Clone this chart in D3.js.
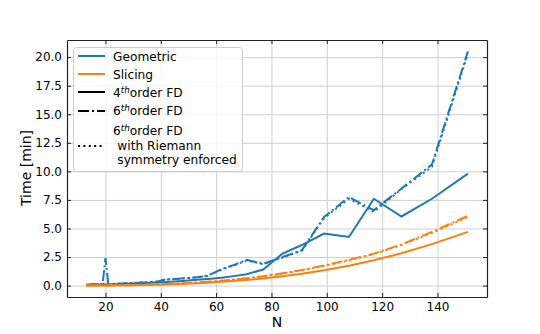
<!DOCTYPE html>
<html lang="en">
<head>
<meta charset="utf-8">
<title>Time vs N</title>
<script src="https://d3js.org/d3.v7.min.js"></script>
<style>
body { margin: 0; background: #fff; }
text { font-family: "DejaVu Sans", sans-serif; fill: #000; }
</style>
</head>
<body>
<script>

// grid sizes N and run times in minutes
var nValues = [13, 14, 15, 16, 18, 19, 20, 21, 22, 24, 26, 28, 30, 33, 36, 39, 42, 45, 49, 53, 57, 62, 67, 71, 77, 84, 91, 99, 108, 117, 127, 138, 151];

var geo4 = [0.05, 0.05, 0.06, 0.07, 0.08, 0.09, 0.10, 0.10, 0.11, 0.12, 0.14, 0.16, 0.18, 0.21, 0.25, 0.28, 0.32, 0.36, 0.42, 0.50, 0.57, 0.68, 0.85, 1.00, 1.40, 2.80, 3.55, 4.55, 4.25, 7.60, 6.05, 7.60, 9.80];
var geo6 = [0.08, 0.10, 0.12, 0.12, 0.10, 0.20, 2.40, 0.20, 0.12, 0.15, 0.18, 0.20, 0.22, 0.26, 0.28, 0.35, 0.55, 0.58, 0.65, 0.72, 0.85, 1.45, 1.85, 2.25, 1.90, 2.50, 3.10, 6.00, 7.75, 6.60, 8.50, 10.60, 20.50];
var geo6r = [0.06, 0.08, 0.10, 0.11, 0.12, 0.13, 0.14, 0.15, 0.15, 0.17, 0.19, 0.21, 0.23, 0.27, 0.30, 0.38, 0.52, 0.56, 0.64, 0.72, 0.88, 1.40, 1.82, 2.20, 1.88, 2.45, 3.05, 5.90, 7.60, 6.45, 8.45, 10.40, 20.30];

var slice4 = [0.003, 0.004, 0.005, 0.006, 0.008, 0.009, 0.011, 0.013, 0.015, 0.019, 0.024, 0.030, 0.037, 0.050, 0.064, 0.082, 0.10, 0.126, 0.16, 0.205, 0.255, 0.33, 0.415, 0.49, 0.63, 0.82, 1.04, 1.34, 1.74, 2.21, 2.83, 3.63, 4.70];
var slice6 = [0.004, 0.005, 0.007, 0.008, 0.011, 0.012, 0.014, 0.017, 0.020, 0.025, 0.031, 0.039, 0.048, 0.065, 0.083, 0.107, 0.13, 0.164, 0.21, 0.27, 0.33, 0.43, 0.54, 0.64, 0.82, 1.07, 1.36, 1.76, 2.25, 2.80, 3.60, 4.70, 6.10];
var slice6r = [0.004, 0.005, 0.006, 0.008, 0.010, 0.012, 0.014, 0.016, 0.019, 0.024, 0.030, 0.038, 0.047, 0.063, 0.081, 0.104, 0.13, 0.160, 0.21, 0.26, 0.32, 0.42, 0.53, 0.63, 0.80, 1.05, 1.33, 1.72, 2.20, 2.75, 3.55, 4.60, 6.00];

var xTicks = [20, 40, 60, 80, 100, 120, 140];
var yTicks = [0, 2.5, 5, 7.5, 10, 12.5, 15, 17.5, 20];

var width = 540,
    height = 334;

var blue = "#1f77b4",
    orange = "#ff7f0e";

var dashDot = "11,3,2,3",
    dotted = "2,3.4";

var x = d3.scaleLinear()
    .domain([6.1, 157.9])
    .range([67, 487]);

var y = d3.scaleLinear()
    .domain([-1.0, 21.5])
    .range([297, 40]);

var svg = d3.select("body")
    .append("svg")
    .attr("width", width)
    .attr("height", height);

// grid
svg.append("g")
    .attr("transform", "translate(0,297)")
    .call(d3.axisBottom(x).tickValues(xTicks).tickSize(-257).tickFormat(""))
    .call(function(g) {
      g.select(".domain").remove();
      g.selectAll("line").attr("stroke", "#d0d0d0").attr("stroke-width", 1);
    });

svg.append("g")
    .attr("transform", "translate(67,0)")
    .call(d3.axisLeft(y).tickValues(yTicks).tickSize(-420).tickFormat(""))
    .call(function(g) {
      g.select(".domain").remove();
      g.selectAll("line").attr("stroke", "#d0d0d0").attr("stroke-width", 1);
    });

// the six curves
var line = d3.line()
    .x(function(d, i) { return x(nValues[i]); })
    .y(function(d) { return y(d); });

var series = [
  {values: geo4, color: blue, dash: null},
  {values: geo6, color: blue, dash: dashDot},
  {values: geo6r, color: blue, dash: dotted},
  {values: slice4, color: orange, dash: null},
  {values: slice6, color: orange, dash: dashDot},
  {values: slice6r, color: orange, dash: dotted}
];

svg.append("g")
  .selectAll("path")
    .data(series)
  .enter().append("path")
    .attr("d", function(d) { return line(d.values); })
    .attr("fill", "none")
    .attr("stroke", function(d) { return d.color; })
    .attr("stroke-width", 2)
    .attr("stroke-dasharray", function(d) { return d.dash; });

// axes, ticks pointing inward on all four sides
function styleAxis(g) {
  g.select(".domain").attr("stroke", "#222").attr("stroke-width", 1.2);
  g.selectAll(".tick line").attr("stroke", "#222");
  g.selectAll("text")
      .style("font-family", "DejaVu Sans")
      .style("font-size", "12px")
      .attr("fill", "#000");
}

svg.append("g")
    .attr("transform", "translate(0,297)")
    .call(d3.axisBottom(x).tickValues(xTicks).tickSizeInner(-4).tickSizeOuter(0).tickPadding(5))
    .call(styleAxis);

svg.append("g")
    .attr("transform", "translate(0,40)")
    .call(d3.axisTop(x).tickValues(xTicks).tickSizeInner(-4).tickSizeOuter(0).tickFormat(""))
    .call(styleAxis);

svg.append("g")
    .attr("transform", "translate(67,0)")
    .call(d3.axisLeft(y).tickValues(yTicks).tickSizeInner(-4).tickSizeOuter(0).tickPadding(5)
      .tickFormat(d3.format(".1f")))
    .call(styleAxis);

svg.append("g")
    .attr("transform", "translate(487,0)")
    .call(d3.axisRight(y).tickValues(yTicks).tickSizeInner(-4).tickSizeOuter(0).tickFormat(""))
    .call(styleAxis);

// axis labels
svg.append("text")
    .attr("x", 277)
    .attr("y", 327)
    .attr("text-anchor", "middle")
    .style("font-size", "14px")
    .text("N");

svg.append("text")
    .attr("transform", "translate(31,168) rotate(-90)")
    .attr("text-anchor", "middle")
    .style("font-size", "14px")
    .text("Time [min]");

// legend
var legend = svg.append("g");

legend.append("rect")
    .attr("x", 73.5)
    .attr("y", 47.5)
    .attr("width", 169)
    .attr("height", 124)
    .attr("rx", 3)
    .attr("fill", "#fff")
    .attr("fill-opacity", 0.8)
    .attr("stroke", "#cccccc");

var handles = [
  {y: 56, color: blue, dash: null},
  {y: 74, color: orange, dash: null},
  {y: 92, color: "#000", dash: null},
  {y: 111, color: "#000", dash: dashDot},
  {y: 146, color: "#000", dash: dotted}
];

legend.selectAll("line")
    .data(handles)
  .enter().append("line")
    .attr("x1", 78)
    .attr("x2", 105)
    .attr("y1", function(d) { return d.y; })
    .attr("y2", function(d) { return d.y; })
    .attr("stroke", function(d) { return d.color; })
    .attr("stroke-width", 2)
    .attr("stroke-dasharray", function(d) { return d.dash; });

function legendText(yPos, xPos) {
  return legend.append("text")
      .attr("x", xPos || 113)
      .attr("y", yPos)
      .style("font-size", "12.2px");
}

legendText(60.5).text("Geometric");
legendText(78.5).text("Slicing");

function orderLabel(yPos, digit) {
  var t = legendText(yPos);
  t.append("tspan").text(digit);
  t.append("tspan").attr("dy", -4).style("font-size", "8.8px").style("font-style", "italic").text("th");
  t.append("tspan").attr("dy", 4).text("order FD");
}

orderLabel(96.5, "4");
orderLabel(115, "6");
orderLabel(135, "6");
legendText(149.5, 117.3).text("with Riemann");
legendText(163.5, 117.3).text("symmetry enforced");

</script>
</body>
</html>
